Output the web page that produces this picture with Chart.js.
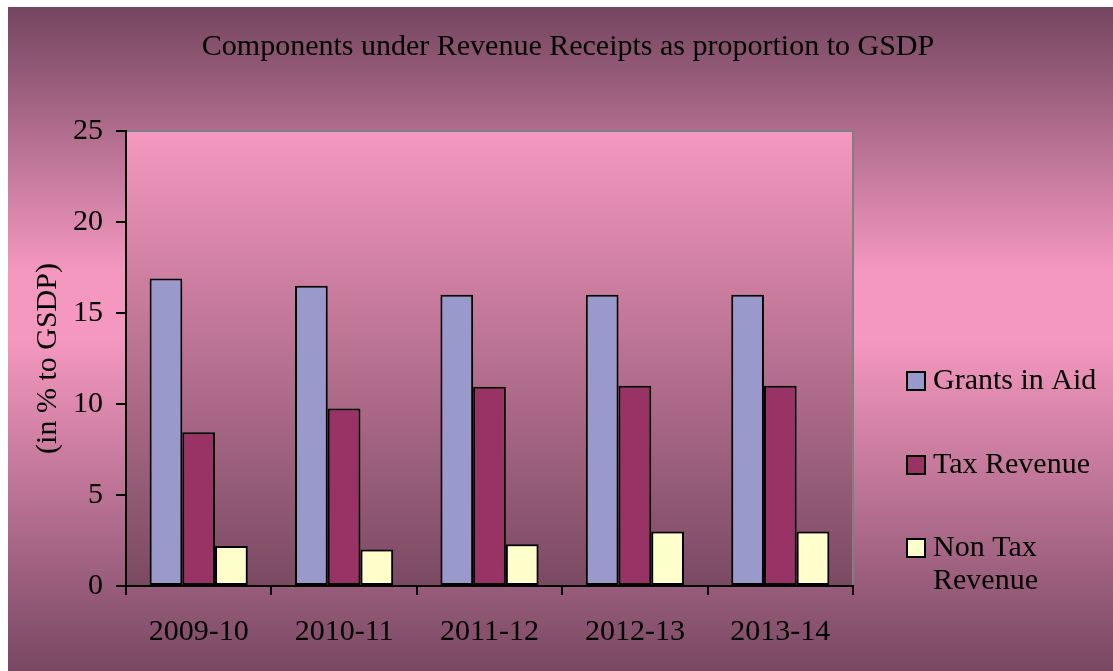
<!DOCTYPE html>
<html>
<head>
<meta charset="utf-8">
<script src="https://cdn.jsdelivr.net/npm/chart.js@4/dist/chart.umd.min.js"></script>
<style>
  html, body { margin: 0; padding: 0; background: #fff; }
  #wrap { width: 1113px; height: 671px; }
</style>
</head>
<body>
<div id="wrap"><canvas id="revChart" width="1113" height="671"></canvas></div>
<script>
// data
const years = ['2009-10', '2010-11', '2011-12', '2012-13', '2013-14'];
const grantsInAid = [16.9, 16.5, 16.0, 16.0, 16.0];
const taxRevenue = [8.45, 9.75, 10.95, 11.0, 11.0];
const nonTaxRevenue = [2.2, 2.0, 2.3, 3.0, 3.0];
const seriesNames = ['Grants in Aid', 'Tax Revenue', ['Non Tax', 'Revenue']];
const seriesColors = ['#9999cc', '#993366', '#ffffcc'];

const FONT = '"Liberation Serif", "Times New Roman", serif';

const backdrop = {
    id: 'backdrop',
    beforeDraw(chart) {
        const ctx = chart.ctx;
        const w = chart.width, h = chart.height;
        ctx.save();
        ctx.fillStyle = '#ffffff';
        ctx.fillRect(0, 0, w, h);
        const g = ctx.createLinearGradient(0, 7, 0, h);
        g.addColorStop(0, '#744660');
        g.addColorStop(0.4, '#f598c0');
        g.addColorStop(0.5, '#f598c0');
        g.addColorStop(1, '#784862');
        ctx.fillStyle = g;
        ctx.fillRect(8, 7, w - 8, h - 7);

        const a = chart.chartArea;
        const pg = ctx.createLinearGradient(0, a.top, 0, a.bottom);
        pg.addColorStop(0, '#f598c0');
        pg.addColorStop(1, '#7a4a62');
        ctx.fillStyle = pg;
        ctx.fillRect(a.left, a.top, a.right - a.left, a.bottom - a.top);

        // grey frame on top and right
        ctx.strokeStyle = '#808080';
        ctx.lineWidth = 2;
        ctx.beginPath();
        ctx.moveTo(a.left, a.top);
        ctx.lineTo(a.right, a.top);
        ctx.lineTo(a.right, a.bottom);
        ctx.stroke();

        // title
        ctx.fillStyle = '#000';
        ctx.font = '30px ' + FONT;
        ctx.textAlign = 'center';
        ctx.textBaseline = 'middle';
        ctx.fillText('Components under Revenue Receipts as proportion to GSDP', 568, 47);
        ctx.restore();
    },
    afterDraw(chart) {
        const ctx = chart.ctx;
        ctx.save();
        ctx.font = '30px ' + FONT;
        ctx.textAlign = 'left';
        ctx.textBaseline = 'middle';
        const rows = [381, 465, 548];
        chart.data.datasets.forEach((ds, i) => {
            const y = rows[i];
            ctx.fillStyle = ds.backgroundColor;
            ctx.fillRect(907, y - 9, 18, 18);
            ctx.strokeStyle = '#000';
            ctx.lineWidth = 2;
            ctx.strokeRect(907, y - 9, 18, 18);
            ctx.fillStyle = '#000';
            const lines = Array.isArray(seriesNames[i]) ? seriesNames[i] : [seriesNames[i]];
            lines.forEach((t, k) => ctx.fillText(t, 933, y + k * 33));
        });
        ctx.restore();
    }
};

new Chart(document.getElementById('revChart'), {
    type: 'bar',
    data: {
        labels: years,
        datasets: [
            { label: 'Grants in Aid', data: grantsInAid, backgroundColor: seriesColors[0] },
            { label: 'Tax Revenue', data: taxRevenue, backgroundColor: seriesColors[1] },
            { label: 'Non Tax Revenue', data: nonTaxRevenue, backgroundColor: seriesColors[2] }
        ].map(d => Object.assign(d, { borderColor: '#000', borderWidth: 2, borderSkipped: false,
            categoryPercentage: 0.675, barPercentage: 1 }))
    },
    options: {
        responsive: false,
        animation: false,
        devicePixelRatio: 1,
        layout: { padding: { left: 0, top: 131, right: 260, bottom: 0 } },
        plugins: {
            legend: { display: false },
            title: { display: false },
            tooltip: { enabled: false }
        },
        scales: {
            x: {
                afterFit(scale) { scale.height = 85; },
                grid: { display: true, drawOnChartArea: false, drawTicks: true, tickLength: 9, color: '#000', lineWidth: 2, offset: true },
                border: { display: true, color: '#000', width: 2 },
                ticks: { color: '#000', font: { family: FONT, size: 30 }, padding: 19, maxRotation: 0 }
            },
            y: {
                min: 0,
                max: 25,
                afterFit(scale) { scale.width = 126; },
                grid: { display: true, drawOnChartArea: false, drawTicks: true, tickLength: 10, color: '#000', lineWidth: 2 },
                border: { display: true, color: '#000', width: 2 },
                ticks: { stepSize: 5, color: '#000', font: { family: FONT, size: 30 }, padding: 13 },
                title: { display: true, text: '(in % to GSDP)', color: '#000', font: { family: FONT, size: 30 }, padding: { top: 30, bottom: 0 } }
            }
        }
    },
    plugins: [backdrop]
});
</script>
</body>
</html>
